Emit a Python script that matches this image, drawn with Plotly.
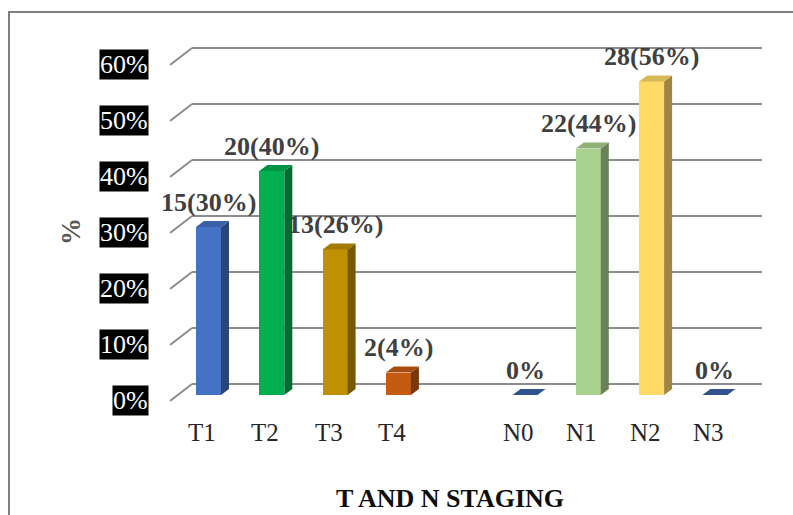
import plotly.graph_objects as go

# ---- data ----
t_stages = ["T1", "T2", "T3", "T4"]
n_stages = ["N0", "N1", "N2", "N3"]
t_counts = [15, 20, 13, 2]
n_counts = [0, 22, 28, 0]
t_pct = [30, 40, 26, 4]
n_pct = [0, 44, 56, 0]
t_colors = ["#4472C4", "#00B050", "#BF9000", "#C55A11"]
n_colors = ["#4472C4", "#A9D18E", "#FFD966", "#4472C4"]
y_ticks = [0, 10, 20, 30, 40, 50, 60]

# ---- geometry (pixels) ----
FIG_W, FIG_H = 793, 515
X0, SLOT = 208.5, 63.3          # centre of first bar, distance between slots
Y0, PX_PER_PCT = 395, 5.6       # 0% on the bar plane, pixels per percent
BAR_W = 25                      # front face width
DEP_X, DEP_Y = 8, 6             # bar depth (right, up)
BACK_L, BACK_R, BACK_Y0 = 192, 762, 384   # back wall
FRONT_L, FRONT_Y0 = 170, 401              # front edge of floor

GRID = "#8c8c8c"
FONT = "Liberation Serif, serif"


def xd(px):
    return (px - X0) / SLOT


def yd(py):
    return (Y0 - py) / PX_PER_PCT


def shade(hex_color, f):
    h = hex_color.lstrip("#")
    r, g, b = (int(h[i:i + 2], 16) for i in (0, 2, 4))
    return "#{:02x}{:02x}{:02x}".format(int(r * f), int(g * f), int(b * f))


categories = t_stages + n_stages
slots = [0, 1, 2, 3, 5, 6, 7, 8]
values = t_pct + n_pct
counts = t_counts + n_counts
colors = t_colors + n_colors
labels = [f"{c}({p}%)" if c else f"{p}%" for c, p in zip(counts, values)]

w = BAR_W / SLOT
ddx = DEP_X / SLOT
ddy = DEP_Y / PX_PER_PCT

fig = go.Figure()

# front faces
fig.add_trace(go.Bar(
    x=slots, y=values, width=w,
    marker=dict(color=colors, line=dict(width=0)),
    hoverinfo="skip", showlegend=False,
))

# side and top faces
for s, v, c in zip(slots, values, colors):
    r = s + w / 2
    l = s - w / 2
    if v > 0:
        fig.add_trace(go.Scatter(
            x=[r, r + ddx, r + ddx, r, r], y=[0, ddy, v + ddy, v, 0],
            fill="toself", fillcolor=shade(c, 0.62), mode="lines",
            line=dict(width=0), hoverinfo="skip", showlegend=False))
    fig.add_trace(go.Scatter(
        x=[l, r, r + ddx, l + ddx, l], y=[v, v, v + ddy, v + ddy, v],
        fill="toself", fillcolor=shade(c, 0.72 if v == 0 else 0.85), mode="lines",
        line=dict(width=0), hoverinfo="skip", showlegend=False))

shapes = []
back_off = yd(BACK_Y0)
front_off = yd(FRONT_Y0)
for t in y_ticks:
    shapes.append(dict(type="line", xref="x", yref="y", layer="below",
                       x0=xd(BACK_L), x1=xd(BACK_R), y0=t + back_off, y1=t + back_off,
                       line=dict(color=GRID, width=2)))
    shapes.append(dict(type="line", xref="x", yref="y", layer="below",
                       x0=xd(FRONT_L), x1=xd(BACK_L), y0=t + front_off, y1=t + back_off,
                       line=dict(color=GRID, width=2)))

# chart border
shapes.append(dict(type="rect", xref="paper", yref="paper",
                   x0=9 / FIG_W, x1=1.05, y0=1 - 12 / FIG_H, y1=-0.05,
                   line=dict(color="#7f7f7f", width=2), fillcolor="rgba(0,0,0,0)"))

annotations = []
# value axis labels
for t in y_ticks:
    annotations.append(dict(x=xd(149), y=t + yd(400), xref="x", yref="y",
                            text=f"{t}%", showarrow=False, xanchor="right", yanchor="middle",
                            bgcolor="black", borderpad=0,
                            font=dict(family=FONT, size=26, color="white")))
# category labels
for s, name in zip(slots, categories):
    annotations.append(dict(x=s - 6.5 / SLOT, y=yd(432), xref="x", yref="y",
                            text=name, showarrow=False, xanchor="center", yanchor="middle",
                            font=dict(family=FONT, size=25, color="#262626")))
# data labels
for s, v, lab in zip(slots, values, labels):
    annotations.append(dict(x=s, y=v, xref="x", yref="y", text=f"<b>{lab}</b>",
                            showarrow=False, xanchor="center", yanchor="middle", yshift=25,
                            font=dict(family=FONT, size=26, color="#404040")))
# axis titles
annotations.append(dict(x=xd(450), y=yd(498), xref="x", yref="y",
                        text="<b>T AND N STAGING</b>", showarrow=False,
                        font=dict(family=FONT, size=26, color="#0d0d0d")))
annotations.append(dict(x=xd(71), y=yd(232), xref="x", yref="y",
                        text="<b>%</b>", showarrow=False, textangle=-90,
                        font=dict(family=FONT, size=27, color="#595959")))

fig.update_layout(
    width=FIG_W, height=FIG_H,
    margin=dict(l=0, r=0, t=0, b=0),
    paper_bgcolor="white", plot_bgcolor="white",
    xaxis=dict(range=[xd(0), xd(FIG_W)], visible=False, fixedrange=True),
    yaxis=dict(range=[yd(FIG_H), yd(0)], visible=False, fixedrange=True),
    shapes=shapes, annotations=annotations,
    bargap=0, showlegend=False,
)

fig.write_html("out.html")
